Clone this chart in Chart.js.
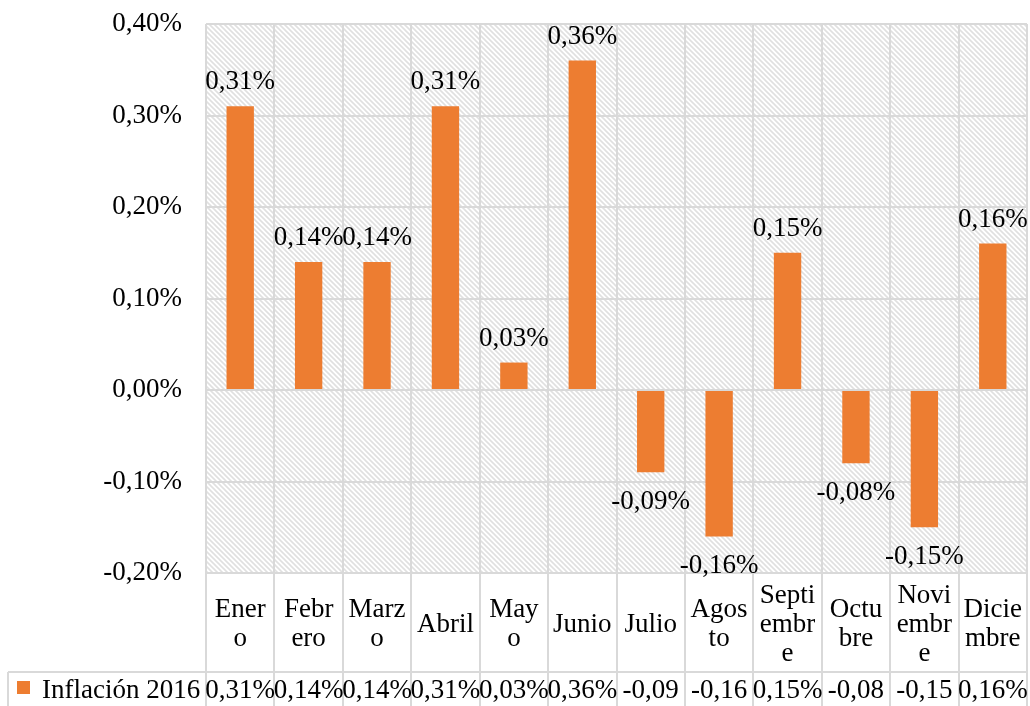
<!DOCTYPE html>
<html>
<head>
<meta charset="utf-8">
<title>Inflación 2016</title>
<script src="https://cdn.jsdelivr.net/npm/chart.js@4/dist/chart.umd.min.js"></script>
<style>
    body { margin: 0; background: #fff; }
    #chart { display: block; }
</style>
</head>
<body>
<canvas id="chart" width="1030" height="706"></canvas>
<script>
//--- Datos
var meses = [['Ener', 'o'], ['Febr', 'ero'], ['Marz', 'o'], ['Abril'], ['May', 'o'], ['Junio'],
    ['Julio'], ['Agos', 'to'], ['Septi', 'embr', 'e'], ['Octu', 'bre'], ['Novi', 'embr', 'e'], ['Dicie', 'mbre']];
var inflacion = [0.31, 0.14, 0.14, 0.31, 0.03, 0.36, -0.09, -0.16, 0.15, -0.08, -0.15, 0.16];
var serie = 'Inflación 2016';
var yTicks = [-0.2, -0.1, 0, 0.1, 0.2, 0.3, 0.4];

var FONT = '27px "Liberation Serif", "Times New Roman", serif';
var GRID = '#d9d9d9';
var NARANJA = '#ED7D31';

function pct(v) {
    return (Math.round(v * 100) / 100).toFixed(2).replace('.', ',') + '%';
}

//--- fondo rayado
function hatch() {
    var c = document.createElement('canvas');
    c.width = 5; c.height = 5;
    var g = c.getContext('2d');
    g.fillStyle = '#fff';
    g.fillRect(0, 0, 5, 5);
    g.strokeStyle = '#e0e0e0';
    g.lineWidth = 1.6;
    g.beginPath();
    g.moveTo(-1, -1); g.lineTo(6, 6);
    g.moveTo(-1, 4); g.lineTo(1, 6);
    g.moveTo(4, -1); g.lineTo(6, 1);
    g.stroke();
    return c;
}

var fondo = {
    id: 'fondo',
    beforeDraw: function (chart) {
        var a = chart.chartArea, ctx = chart.ctx;
        ctx.save();
        ctx.fillStyle = ctx.createPattern(hatch(), 'repeat');
        ctx.fillRect(a.left, a.top, a.right - a.left, a.bottom - a.top);
        ctx.restore();
    }
};

//--- etiquetas de datos
var etiquetas = {
    id: 'etiquetas',
    afterDatasetsDraw: function (chart) {
        var ctx = chart.ctx;
        var meta = chart.getDatasetMeta(0);
        ctx.save();
        ctx.font = FONT;
        ctx.fillStyle = '#000';
        ctx.textAlign = 'center';
        ctx.textBaseline = 'alphabetic';
        meta.data.forEach(function (bar, i) {
            var v = inflacion[i];
            var y = v >= 0 ? bar.y - 17 : bar.y + 37;
            ctx.fillText(pct(v), bar.x, y);
        });
        ctx.restore();
    }
};

//--- tabla de datos debajo del gráfico
var tabla = {
    id: 'tabla',
    afterDraw: function (chart) {
        var ctx = chart.ctx, a = chart.chartArea, x = chart.scales.x;
        var H = chart.height;
        var fila = 672;
        var ancho = (a.right - a.left) / meses.length;
        ctx.save();
        ctx.strokeStyle = GRID;
        ctx.lineWidth = 2;
        ctx.beginPath();
        for (var i = 0; i <= meses.length; i++) {
            var gx = Math.round(a.left + i * ancho);
            ctx.moveTo(gx, a.bottom);
            ctx.lineTo(gx, H);
        }
        ctx.moveTo(8, fila); ctx.lineTo(a.right, fila);
        ctx.moveTo(8, fila); ctx.lineTo(8, H);
        ctx.stroke();

        ctx.font = FONT;
        ctx.fillStyle = '#000';
        ctx.textAlign = 'center';
        ctx.textBaseline = 'middle';
        var lh = 29;
        var mid = (a.bottom + fila) / 2 + 2;
        meses.forEach(function (lineas, i) {
            var cx = x.getPixelForValue(i);
            var y0 = mid - (lineas.length - 1) * lh / 2;
            lineas.forEach(function (t, j) {
                ctx.fillText(t, cx, y0 + j * lh);
            });
            // valores (recortados como en Excel)
            var txt = pct(inflacion[i]);
            while (ctx.measureText(txt).width > ancho + 4 && txt.length > 1) {
                txt = txt.slice(0, -1);
            }
            ctx.fillText(txt, cx, 691);
        });

        ctx.fillStyle = NARANJA;
        ctx.fillRect(17, 681, 13, 13);
        ctx.fillStyle = '#000';
        ctx.textAlign = 'left';
        ctx.fillText(serie, 42, 691);
        ctx.restore();
    }
};

//--- gráfico
var ctx = document.getElementById('chart');
var chart = new Chart(ctx, {
    type: 'bar',
    data: {
        labels: meses,
        datasets: [{
            label: serie,
            data: inflacion,
            backgroundColor: NARANJA,
            borderWidth: 0,
            barPercentage: 0.4,
            categoryPercentage: 1
        }]
    },
    options: {
        responsive: false,
        animation: false,
        devicePixelRatio: 1,
        layout: { padding: { top: 24, right: 3, left: 0, bottom: 0 } },
        plugins: {
            legend: { display: false },
            tooltip: { enabled: false }
        },
        scales: {
            x: {
                offset: true,
                ticks: { display: false },
                grid: { color: GRID, lineWidth: 2, drawTicks: false, offset: true },
                border: { display: false },
                afterFit: function (s) { s.height = 133; }
            },
            y: {
                min: -0.2,
                max: 0.4,
                afterBuildTicks: function (s) {
                    s.ticks = yTicks.map(function (v) { return { value: v }; });
                },
                ticks: {
                    padding: 24,
                    color: '#000',
                    font: { family: '"Liberation Serif", "Times New Roman", serif', size: 27 },
                    callback: function (v) { return pct(v); }
                },
                grid: { color: GRID, lineWidth: 2, drawTicks: false },
                border: { display: false },
                afterFit: function (s) {
                    s.width = 206;
                    s.paddingTop = 0;
                    s.paddingBottom = 0;
                }
            }
        }
    },
    plugins: [fondo, etiquetas, tabla]
});
</script>
</body>
</html>
